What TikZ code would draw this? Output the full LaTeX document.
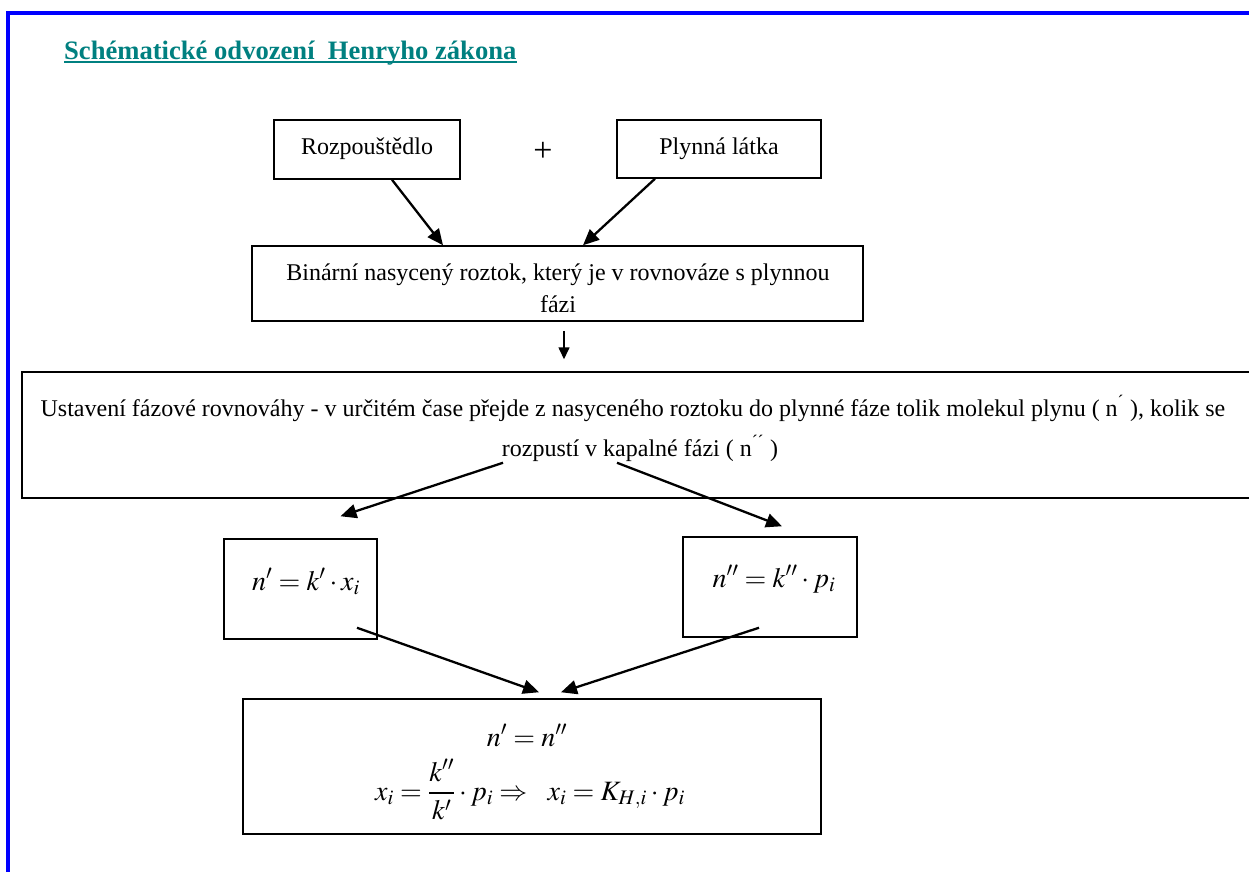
\documentclass[tikz,border=0pt]{standalone}
\usepackage{mathptmx}
\usepackage[no-math]{fontspec}
\setmainfont{Liberation Serif}
\usetikzlibrary{arrows.meta}
\definecolor{titleteal}{HTML}{008080}
\definecolor{frameblue}{HTML}{0000FF}
\begin{document}
\begin{tikzpicture}[x=1pt,y=-1pt,
  txt/.style={inner sep=0pt, anchor=base, font=\fontsize{24}{30}\selectfont},
  mth/.style={inner sep=0pt, anchor=base, font=\fontsize{28}{34}\selectfont},
  box/.style={draw, line width=1.5pt, inner sep=0pt},
  arr/.style={line width=2.3pt, -{Triangle[length=16pt,width=14pt]}},
  smallarr/.style={line width=1.6pt, -{Triangle[length=12pt,width=11pt]}}]
\useasboundingbox (0,0) rectangle (1249,871);
\clip (0,0) rectangle (1249,871);
\fill[white] (0,0) rectangle (1249,871);
% frame
\draw[frameblue, line width=4pt] (7.5,900) -- (7.5,13) -- (1270,13);
% title
\node[inner sep=0pt, anchor=base west, text=titleteal, font=\fontsize{26.6}{32}\selectfont\bfseries] (title) at (64,59) {Schématické odvození\ \ Henryho zákona};
\draw[titleteal, line width=2.4pt] ([yshift=-3pt]title.base west) -- ([yshift=-3pt]title.base east);
% boxes
\node[box, minimum width=186pt, minimum height=59pt] (rozp) at (367,149.5) {};
\node[txt] (rozpt) at (367,154) {Rozpouštědlo};
\node[box, minimum width=204pt, minimum height=58pt] (plyn) at (719,149) {};
\node[txt] (plynt) at (719,154) {Plynná látka};
\node[inner sep=0pt, font=\fontsize{34}{34}\selectfont] (plus) at (543,152) {+};
\node[box, minimum width=611pt, minimum height=75pt] (bin) at (557.5,283.5) {};
\node[txt] (bint1) at (558,280) {Binární nasycený roztok, který je v rovnováze s plynnou};
\node[txt] (bint2) at (558,312) {fázi};
\node[box, minimum width=1234pt, minimum height=126pt] (ust) at (639,435) {};
\node[txt] (ustt1) at (633,416) {Ustavení fázové rovnováhy - v určitém čase přejde z nasyceného roztoku do plynné fáze tolik molekul plynu ( n\textsuperscript{´} ), kolik se};
\node[txt] (ustt2) at (640,456) {rozpustí v kapalné fázi ( n\textsuperscript{´´} )};
\node[box, minimum width=153pt, minimum height=100pt] (np) at (300.5,589) {};
\node[mth] (npf) at (306,590) {$n^{\prime}=k^{\prime}\cdot x_i$};
\node[box, minimum width=174pt, minimum height=100pt] (npp) at (770,587) {};
\node[mth] (nppf) at (774,587) {$n^{\prime\prime}=k^{\prime\prime}\cdot p_i$};
\node[box, minimum width=578pt, minimum height=135pt] (eq) at (532,766.5) {};
\node[mth] (eq1) at (527,746) {$n^{\prime}=n^{\prime\prime}$};
\node[mth] (eq2) at (530,800) {$x_i=\displaystyle\frac{k^{\prime\prime}}{k^{\prime}}\cdot p_i\Rightarrow\ \ x_i=K_{H,i}\cdot p_i$};
% connectors
\draw[arr] ([xshift=25pt]rozp.south) -- ([xshift=-114.5pt]bin.north);
\draw[arr] ([xshift=-64pt]plyn.south) -- ([xshift=25.5pt]bin.north);
\draw[smallarr] ([xshift=6.5pt,yshift=-9pt]bin.south) -- ([xshift=-75pt,yshift=12pt]ust.north);
\draw[arr] ([xshift=-136pt,yshift=36pt]ust.south) -- ([xshift=40pt,yshift=22pt]np.north);
\draw[arr] ([xshift=-22pt,yshift=36pt]ust.south) -- ([xshift=12pt,yshift=10pt]npp.north);
\draw[arr] ([xshift=56.5pt,yshift=12pt]np.south) -- ([xshift=7pt,yshift=6pt]eq.north);
\draw[arr] ([xshift=-11pt,yshift=10pt]npp.south) -- ([xshift=29pt,yshift=6pt]eq.north);
\end{tikzpicture}
\end{document}
